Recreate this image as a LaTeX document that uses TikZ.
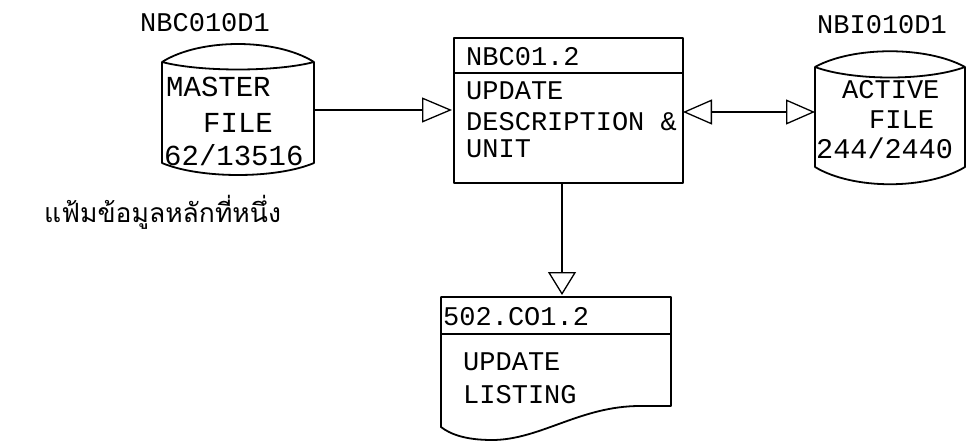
\documentclass[tikz,border=0pt]{standalone}
\usepackage{fontspec}
\setmonofont{Liberation Mono}
\newfontfamily\thaifont[Script=Thai]{Loma}
\usetikzlibrary{arrows.meta}
\tikzset{
  shapeline/.style={line width=1.8pt, line join=round},
  conn/.style={line width=1.6pt},
  tip/.style={-{Triangle[open, length=30pt, width=25pt, line width=1.3pt]}},
  lbl/.style={inner sep=0pt, anchor=west, font=\ttfamily\fontsize{27}{30}\selectfont},
  lblbig/.style={inner sep=0pt, anchor=west, font=\ttfamily\fontsize{29}{32}\selectfont},
}
\begin{document}
\begin{tikzpicture}[x=1pt,y=-1pt]
\useasboundingbox (0,0) rectangle (970,442);
% master file cylinder
\draw[shapeline] (162,62) .. controls (200,38) and (276,38) .. (314,62)
  .. controls (276,72) and (200,72) .. (162,62) -- cycle;
\draw[shapeline] (162,62) -- (162,163) .. controls (200,179) and (276,179) .. (314,163) -- (314,62);
\node[lbl] (mlabel) at (140,23) {NBC010D1};
\node[lblbig] (m1) at (166,87) {MASTER};
\node[lblbig] (m2) at (203,123) {FILE};
\node[lblbig] (m3) at (164,155) {62/13516};
\coordinate (mE) at (314,110);
% process box
\draw[shapeline] (454,38) rectangle (683,183);
\draw[shapeline] (454,73) -- (683,73);
\node[lbl] (p0) at (466,57) {NBC01.2};
\node[lbl] (p1) at (466,91) {UPDATE};
\node[lbl] (p2) at (466,122) {DESCRIPTION \&};
\node[lbl] (p3) at (466,149) {UNIT};
\coordinate (pW) at (454,110);
\coordinate (pE) at (683,112);
\coordinate (pS) at (562,183);
% active file cylinder
\draw[shapeline] (815,67) .. controls (853,46) and (927,46) .. (965,67)
  .. controls (927,81) and (853,81) .. (815,67) -- cycle;
\draw[shapeline] (815,67) -- (815,167) .. controls (853,190) and (927,190) .. (965,167) -- (965,67);
\node[lbl] (alabel) at (817,25) {NBI010D1};
\node[lbl] (a1) at (842,90) {ACTIVE};
\node[lbl] (a2) at (869,120) {FILE};
\node[lbl, font=\ttfamily\fontsize{28.5}{30}\selectfont] (a3) at (816,148) {244/2440};
\coordinate (aW) at (815,112);
% thai caption
\node[inner sep=0pt, anchor=west, font=\thaifont\fontsize{26.5}{30}\selectfont] (thai) at (44,212) {แฟ้มข้อมูลหลักที่หนึ่ง};
% document
\draw[shapeline] (441,297) -- (671,297) -- (671,406) -- (640,406)
  .. controls (580,406) and (540,440) .. (492,440)
  .. controls (465,440) and (450,434) .. (441,427) -- cycle;
\draw[shapeline] (441,334) -- (671,334);
\node[lbl] (d0) at (443,317) {502.CO1.2};
\node[lbl] (d1) at (463,362) {UPDATE};
\node[lbl] (d2) at (463,395) {LISTING};
\coordinate (dN) at (562,295);
% connectors
\draw[conn, tip] (mE) -- ([xshift=-2pt]pW);
\draw[conn, {Triangle[open, length=29pt, width=25pt, line width=1.3pt]}-{Triangle[open, length=29pt, width=25pt, line width=1.3pt]}] (pE) -- (aW);
\draw[conn, -{Triangle[open, length=23pt, width=28pt, line width=1.3pt]}] (pS) -- (dN);
\end{tikzpicture}
\end{document}
